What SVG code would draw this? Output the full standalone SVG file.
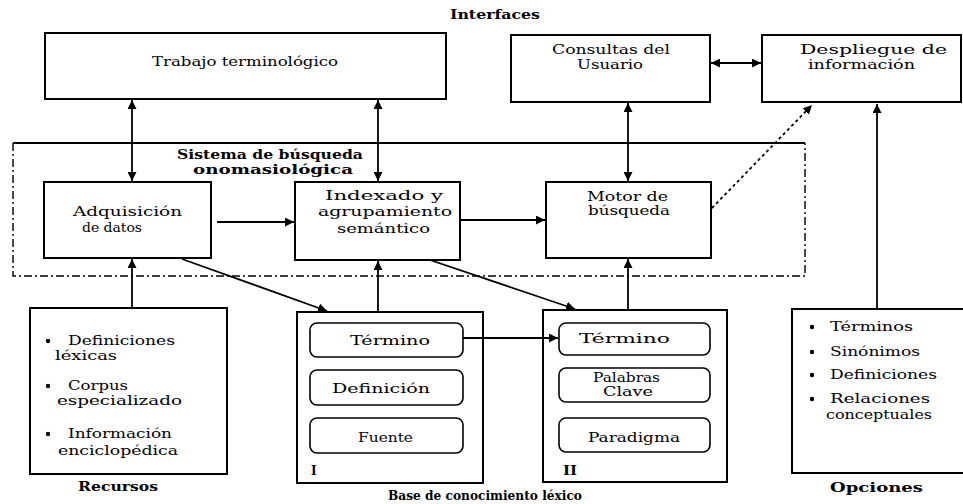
<svg xmlns="http://www.w3.org/2000/svg" width="963" height="504" viewBox="0 0 963 504">
<defs>
<style>
.box{fill:#fff;stroke:#000;stroke-width:2}
.rbox{fill:#fff;stroke:#000;stroke-width:1.6}
.t{font-family:"DejaVu Serif","Liberation Serif",serif;font-size:12px;fill:#000}
.b{font-family:"DejaVu Serif","Liberation Serif",serif;font-size:12px;font-weight:bold;fill:#000}
.ln{stroke:#000;stroke-width:1.8;fill:none}
.dot{stroke:#000;stroke-width:1.8;fill:none;stroke-dasharray:3 3}
.dash{stroke:#000;stroke-width:1.4;fill:none;stroke-dasharray:8 3 2 3}
</style>
<marker id="ah" viewBox="0 0 10 10" refX="10" refY="5" markerWidth="5" markerHeight="5" orient="auto-start-reverse" markerUnits="strokeWidth">
<path d="M0,0 L10,5 L0,10 z" fill="#000"/>
</marker>
</defs>
<rect width="963" height="504" fill="#fff"/>

<text class="b" x="450" y="19" textLength="90" lengthAdjust="spacingAndGlyphs">Interfaces</text>

<g id="sistema">
<line x1="13" y1="143" x2="805" y2="143" class="ln" stroke-width="2"/>
<path d="M13,143 V276 H805 V143" class="dash"/>
<text class="b" x="177" y="159" textLength="186" lengthAdjust="spacingAndGlyphs">Sistema de búsqueda</text>
<text class="b" x="193" y="174" textLength="160" lengthAdjust="spacingAndGlyphs">onomasiológica</text>
</g>

<g id="trabajo">
<rect class="box" x="45" y="33" width="401" height="66"/>
<text class="t" x="152" y="66" textLength="186" lengthAdjust="spacingAndGlyphs">Trabajo terminológico</text>
</g>

<g id="consultas">
<rect class="box" x="511" y="35" width="199" height="67"/>
<text class="t" x="552" y="54" textLength="118" lengthAdjust="spacingAndGlyphs">Consultas del</text>
<text class="t" x="577" y="69" textLength="66" lengthAdjust="spacingAndGlyphs">Usuario</text>
</g>

<g id="despliegue">
<rect class="box" x="762" y="35" width="199" height="67"/>
<text class="t" x="800" y="54" textLength="147" lengthAdjust="spacingAndGlyphs">Despliegue de</text>
<text class="t" x="808" y="69" textLength="107" lengthAdjust="spacingAndGlyphs">información</text>
</g>

<g id="adquisicion">
<rect class="box" x="44" y="182" width="167" height="76"/>
<text class="t" x="73" y="216" textLength="109" lengthAdjust="spacingAndGlyphs">Adquisición</text>
<text class="t" x="82" y="232" textLength="60" lengthAdjust="spacingAndGlyphs">de datos</text>
</g>

<g id="indexado">
<rect class="box" x="295" y="182" width="165" height="78"/>
<text class="t" x="325" y="200" textLength="118" lengthAdjust="spacingAndGlyphs">Indexado y</text>
<text class="t" x="318" y="216" textLength="134" lengthAdjust="spacingAndGlyphs">agrupamiento</text>
<text class="t" x="337" y="233" textLength="93" lengthAdjust="spacingAndGlyphs">semántico</text>
</g>

<g id="motor">
<rect class="box" x="546" y="182" width="165" height="76"/>
<text class="t" x="587" y="201" textLength="81" lengthAdjust="spacingAndGlyphs">Motor de</text>
<text class="t" x="588" y="215" textLength="82" lengthAdjust="spacingAndGlyphs">búsqueda</text>
</g>

<g id="recursos">
<rect class="box" x="30" y="308" width="197" height="166"/>
<circle cx="48" cy="341" r="2.2"/>
<text class="t" x="68" y="345" textLength="107" lengthAdjust="spacingAndGlyphs">Definiciones</text>
<text class="t" x="55" y="360" textLength="62" lengthAdjust="spacingAndGlyphs">léxicas</text>
<circle cx="48" cy="386" r="2.2"/>
<text class="t" x="68" y="390" textLength="60" lengthAdjust="spacingAndGlyphs">Corpus</text>
<text class="t" x="57" y="405" textLength="125" lengthAdjust="spacingAndGlyphs">especializado</text>
<circle cx="48" cy="434" r="2.2"/>
<text class="t" x="68" y="438" textLength="104" lengthAdjust="spacingAndGlyphs">Información</text>
<text class="t" x="58" y="455" textLength="120" lengthAdjust="spacingAndGlyphs">enciclopédica</text>
<text class="b" x="78" y="491" textLength="80" lengthAdjust="spacingAndGlyphs">Recursos</text>
</g>

<g id="baseI">
<rect class="box" x="297" y="312" width="186" height="171"/>
<rect class="rbox" x="310" y="323" width="153" height="34" rx="7"/>
<text class="t" x="350" y="345" textLength="80" lengthAdjust="spacingAndGlyphs">Término</text>
<rect class="rbox" x="310" y="370" width="153" height="35" rx="7"/>
<text class="t" x="332" y="393" textLength="98" lengthAdjust="spacingAndGlyphs">Definición</text>
<rect class="rbox" x="310" y="418" width="153" height="35" rx="7"/>
<text class="t" x="358" y="442" textLength="55" lengthAdjust="spacingAndGlyphs">Fuente</text>
<text class="b" x="311" y="475">I</text>
</g>

<g id="baseII">
<rect class="box" x="543" y="310" width="184" height="172"/>
<rect class="rbox" x="559" y="323" width="151" height="32" rx="7"/>
<text class="t" x="579" y="343" textLength="91" lengthAdjust="spacingAndGlyphs">Término</text>
<rect class="rbox" x="559" y="368" width="151" height="34" rx="7"/>
<text class="t" x="593" y="382" textLength="67" lengthAdjust="spacingAndGlyphs">Palabras</text>
<text class="t" x="603" y="396" textLength="50" lengthAdjust="spacingAndGlyphs">Clave</text>
<rect class="rbox" x="559" y="418" width="151" height="34" rx="7"/>
<text class="t" x="588" y="442" textLength="92" lengthAdjust="spacingAndGlyphs">Paradigma</text>
<text class="b" x="563" y="475" textLength="14" lengthAdjust="spacingAndGlyphs">II</text>
</g>

<text class="b" x="388" y="500" textLength="194" lengthAdjust="spacingAndGlyphs">Base de conocimiento léxico</text>

<g id="opciones">
<rect class="box" x="792" y="309" width="172" height="164"/>
<circle cx="812" cy="327" r="2.2"/>
<text class="t" x="830" y="331" textLength="83" lengthAdjust="spacingAndGlyphs">Términos</text>
<circle cx="812" cy="352" r="2.2"/>
<text class="t" x="830" y="356" textLength="90" lengthAdjust="spacingAndGlyphs">Sinónimos</text>
<circle cx="812" cy="375" r="2.2"/>
<text class="t" x="830" y="379" textLength="107" lengthAdjust="spacingAndGlyphs">Definiciones</text>
<circle cx="812" cy="399" r="2.2"/>
<text class="t" x="830" y="403" textLength="100" lengthAdjust="spacingAndGlyphs">Relaciones</text>
<text class="t" x="826" y="419" textLength="106" lengthAdjust="spacingAndGlyphs">conceptuales</text>
<text class="b" x="830" y="492" textLength="93" lengthAdjust="spacingAndGlyphs">Opciones</text>
</g>

<g id="connectors">
<line class="ln" x1="132" y1="100" x2="132" y2="181" marker-start="url(#ah)" marker-end="url(#ah)"/>
<line class="ln" x1="378" y1="100" x2="378" y2="181" marker-start="url(#ah)" marker-end="url(#ah)"/>
<line class="ln" x1="628" y1="103" x2="628" y2="181" marker-start="url(#ah)" marker-end="url(#ah)"/>
<line class="ln" x1="711" y1="63" x2="761" y2="63" marker-start="url(#ah)" marker-end="url(#ah)"/>
<line class="dot" x1="712" y1="208" x2="812" y2="105" marker-end="url(#ah)"/>
<line class="ln" x1="877" y1="309" x2="877" y2="104" marker-end="url(#ah)"/>
<line class="ln" x1="132" y1="308" x2="132" y2="259" marker-end="url(#ah)"/>
<line class="ln" x1="378" y1="312" x2="378" y2="261" marker-end="url(#ah)"/>
<line class="ln" x1="628" y1="310" x2="628" y2="259" marker-end="url(#ah)"/>
<line class="ln" x1="217" y1="222" x2="294" y2="222" marker-end="url(#ah)"/>
<line class="ln" x1="460" y1="220" x2="545" y2="220" marker-end="url(#ah)"/>
<line class="ln" x1="182" y1="259" x2="327" y2="311" marker-end="url(#ah)"/>
<line class="ln" x1="430" y1="260" x2="575" y2="309" marker-end="url(#ah)"/>
<line class="ln" x1="463" y1="338" x2="558" y2="338" marker-end="url(#ah)"/>
</g>
</svg>
